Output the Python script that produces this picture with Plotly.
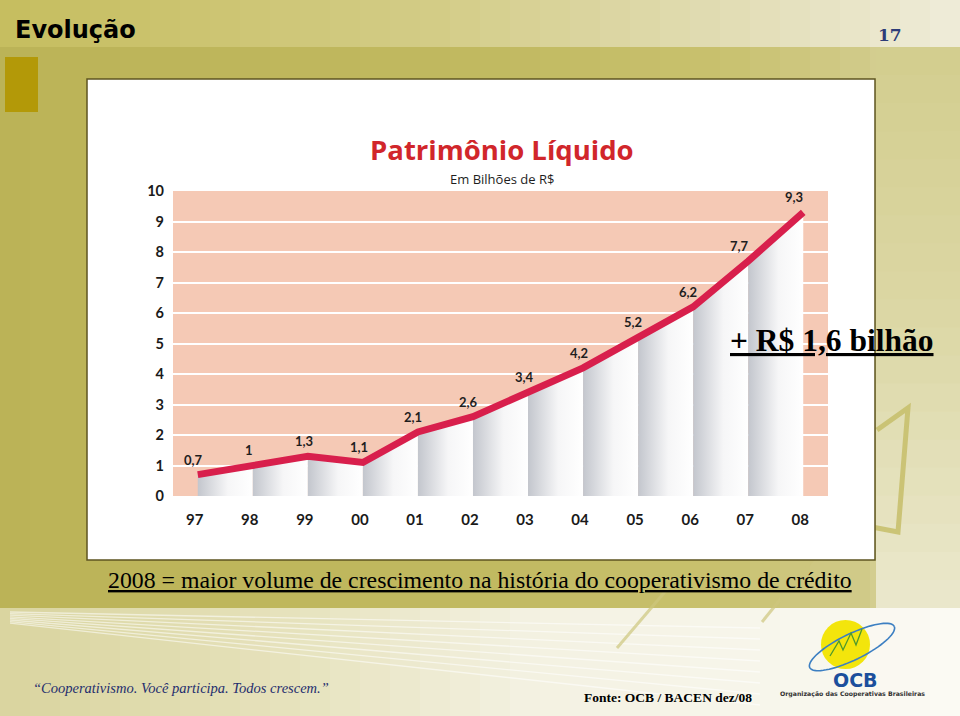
import math
import plotly.graph_objects as go

# ---------------- data ----------------
years = ["97", "98", "99", "00", "01", "02", "03", "04", "05", "06", "07", "08"]
values = [0.7, 1.0, 1.3, 1.1, 2.1, 2.6, 3.4, 4.2, 5.2, 6.2, 7.7, 9.3]
y_ticks = [0, 1, 2, 3, 4, 5, 6, 7, 8, 9, 10]

chart_title = "Patrimônio Líquido"
chart_subtitle = "Em Bilhões de R$"
slide_title = "Evolução"
page_number = "17"
highlight = "+ R$ 1,6 bilhão"
footnote = "2008 = maior volume de crescimento na história do cooperativismo de crédito"
slogan = "“Cooperativismo. Você participa. Todos crescem.”"
source = "Fonte: OCB / BACEN dez/08"
org_short = "OCB"
org_long = "Organização das Cooperativas Brasileiras"

W, H = 960, 716


def px(x):
    return x / W


def py(y):
    return 1 - y / H


def hex2rgb(h):
    h = h.lstrip("#")
    return tuple(int(h[i:i + 2], 16) for i in (0, 2, 4))


def grad(stops, t):
    for (p0, c0), (p1, c1) in zip(stops[:-1], stops[1:]):
        if p0 <= t <= p1:
            f = (t - p0) / (p1 - p0) if p1 > p0 else 0
            a, b = hex2rgb(c0), hex2rgb(c1)
            return "rgb(%d,%d,%d)" % tuple(round(a[i] + (b[i] - a[i]) * f) for i in range(3))
    return stops[-1][1]


shapes = []


def rect(x0, y0, x1, y1, color, line=None, lw=0):
    shapes.append(dict(type="rect", xref="paper", yref="paper", layer="below",
                       x0=px(x0), x1=px(x1), y0=py(y1), y1=py(y0),
                       fillcolor=color, line=dict(width=lw, color=line or "rgba(0,0,0,0)")))


def hband(x0, x1, y0, y1, stops, n):
    step = (x1 - x0) / n
    for i in range(n):
        t = (i + 0.5) / n
        rect(x0 + i * step, y0, x0 + (i + 1) * step + 0.6, y1, grad(stops, t))


def vband(x0, x1, y0, y1, stops, n):
    step = (y1 - y0) / n
    for i in range(n):
        t = (i + 0.5) / n
        rect(x0, y0 + i * step, x1, y0 + (i + 1) * step + 0.6, grad(stops, t))


def line(pts, color, width):
    path = "M " + " L ".join("%f,%f" % (px(x), py(y)) for x, y in pts)
    shapes.append(dict(type="path", xref="paper", yref="paper", layer="below", path=path,
                       line=dict(color=color, width=width)))


# ---------------- slide background ----------------
hband(0, W, 0, 47, [(0, "#c6bd5f"), (0.45, "#d3cc86"), (0.75, "#e1dcb3"), (1, "#efecd9")], 32)
hband(0, W, 47, 608, [(0, "#bbb357"), (0.5, "#c1b960"), (0.75, "#c8c16e"), (0.9, "#d1cb8a"), (1, "#d9d5a0")], 32)
vband(876, W, 47, 608, [(0, "#d3cd8e"), (0.5, "#dcd8a6"), (1, "#ebe8cd")], 20)
hband(0, W, 608, H, [(0, "#d9d49e"), (0.3, "#e6e2bc"), (0.55, "#f3f1e1"), (1, "#fbfaf4")], 32)
# fanning light lines in footer
for k in range(8):
    line([(10, 612 + 1.6 * k), (760, 628 + 11 * k)], "rgba(255,255,255,0.55)", 1.3)
# olive decorative strokes
line([(877, 430), (908, 408), (898, 532), (872, 527)], "rgba(200,192,110,0.9)", 5)
line([(617, 648), (675, 580)], "rgba(205,198,125,0.7)", 3)
line([(762, 622), (792, 585)], "rgba(205,198,125,0.7)", 3)
line([(781, 600), (815, 557)], "rgba(205,198,125,0.8)", 3)
# small square
rect(5, 57, 38, 112, "#b39908")
# white chart box
rect(87, 79, 875, 560, "#ffffff", line="#5e5420", lw=1.5)

# ---------------- OCB logo ----------------
shapes.append(dict(type="circle", xref="paper", yref="paper", layer="below",
                   x0=px(821), x1=px(870), y0=py(669), y1=py(620),
                   fillcolor="#f3e50c", line=dict(width=0)))
cx, cy, rx, ry, ang = 852, 647, 47, 13, math.radians(-26)
ell = []
for k in range(73):
    t = 2 * math.pi * k / 72
    ex, ey = rx * math.cos(t), ry * math.sin(t)
    ell.append((cx + ex * math.cos(ang) - ey * math.sin(ang), cy + ex * math.sin(ang) + ey * math.cos(ang)))
line(ell, "#3c7fc2", 1.6)
line([(830, 656), (839, 641), (843, 650), (851, 633), (856, 645), (862, 629)], "#4e9a2c", 1.3)

# salmon plot background (drawn in the subplot, below gridlines)
shapes.append(dict(type="rect", xref="x domain", yref="y domain", layer="below",
                   x0=0, x1=1, y0=0, y1=1, fillcolor="#f5c9b5", line=dict(width=0)))

# ---------------- chart ----------------
fig = go.Figure()
n = len(values)
for i in range(n - 1):
    fig.add_trace(go.Scatter(
        x=[i, i + 1, i + 1, i, i], y=[0, 0, values[i + 1], values[i], 0],
        mode="lines", line=dict(width=0), fill="toself",
        fillgradient=dict(type="horizontal",
                          colorscale=[[0, "#c3c6cd"], [0.55, "#f6f6f7"], [1, "#ffffff"]]),
        hoverinfo="skip", showlegend=False))

fig.add_trace(go.Scatter(x=list(range(n)), y=values, mode="lines",
                         line=dict(color="#d81f4c", width=7),
                         showlegend=False, hoverinfo="skip"))

annotations = []
for i, v in enumerate(values):
    slope = v - values[i - 1] if i > 0 else 0.3
    xs = -4 - 6 * max(0.0, slope - 0.8)
    annotations.append(dict(x=i, y=v, xref="x", yref="y", text=("%g" % v).replace(".", ","),
                            showarrow=False, xshift=xs, yshift=15,
                            font=dict(family="Lato", size=13, color="#1e1e1e", weight="bold")))


def txt(x, y, text, size, family, color="#000000", anchor="left", weight="normal",
        style="normal", under=False):
    f = dict(family=family, size=size, color=color, weight=weight, style=style)
    if under:
        f["lineposition"] = "under"
    annotations.append(dict(x=px(x), y=py(y), xref="paper", yref="paper", text=text,
                            showarrow=False, xanchor=anchor, yanchor="middle",
                            borderpad=0, font=f))


txt(14, 30, slide_title, 24, "DejaVu Sans", "#000000", weight="bold")
txt(890, 35, page_number, 17, "DejaVu Serif", "#2d3c78", anchor="center", weight="bold")
txt(502, 150, chart_title, 27.5, "Open Sans", "#d1262b", anchor="center", weight="bold")
txt(502, 178.5, chart_subtitle, 13, "Open Sans", "#1e1e1e", anchor="center")
txt(729, 340, highlight, 31.5, "Liberation Serif", "#000000", weight="bold", under=True)
txt(107, 580, footnote, 23.8, "Liberation Serif", "#000000", under=True)
txt(32, 688, slogan, 14.5, "Liberation Serif", "#1f2e6e", style="italic")
txt(583, 697, source, 13.5, "Liberation Serif", "#000000", weight="bold")
txt(855, 680, org_short, 19, "DejaVu Sans", "#1c4f9c", anchor="center", weight="bold")
txt(852, 694, org_long, 6.2, "DejaVu Sans", "#333333", anchor="center", weight="bold")

fig.update_layout(
    width=W, height=H, margin=dict(l=0, r=0, t=0, b=0, pad=0), autosize=False,
    paper_bgcolor="#c1b960", plot_bgcolor="rgba(0,0,0,0)",
    shapes=shapes, annotations=annotations, showlegend=False,
    xaxis=dict(domain=[px(173), px(828)], range=[-0.45, n - 1 + 0.45],
               tickvals=list(range(n)), ticktext=years, showgrid=False, zeroline=False,
               showline=False, ticks="", ticklabelstandoff=13, ticklabelshift=-3,
               automargin=False,
               tickfont=dict(family="Lato", size=15, color="#1a1a1a", weight="bold"),
               fixedrange=True),
    yaxis=dict(domain=[py(496), py(191)], range=[0, 10], tickvals=y_ticks,
               showgrid=True, gridcolor="#ffffff", gridwidth=1.5, zeroline=False,
               showline=False, ticks="", ticklabelstandoff=8, automargin=False,
               tickfont=dict(family="Lato", size=14.5, color="#1a1a1a", weight="bold"),
               fixedrange=True),
)

fig.write_html("out.html")
